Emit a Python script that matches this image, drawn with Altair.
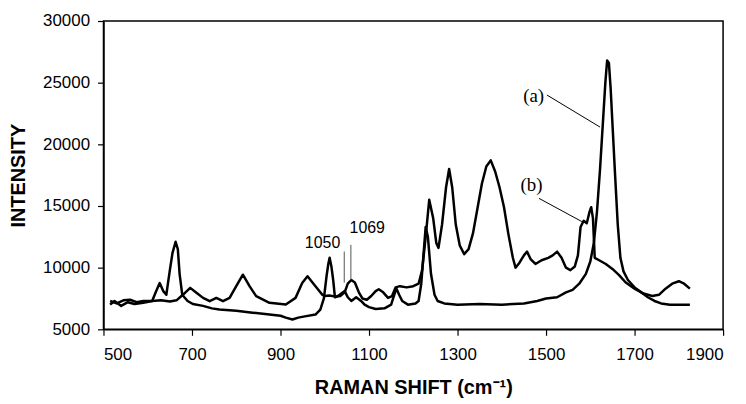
import altair as alt
import pandas as pd

# Spectrum (a)
a_x = [515, 525, 540, 555, 570, 590, 610, 618, 627, 635, 642, 650, 656, 663, 668, 672, 678, 690, 702,
       725, 745, 762, 800, 837, 875, 900, 912, 927, 940, 955, 979, 990, 998, 1004, 1008, 1011, 1015,
       1019, 1023, 1030, 1045, 1052, 1060, 1071, 1082, 1090, 1100, 1115, 1135, 1150, 1157, 1162, 1168,
       1175, 1188, 1205, 1212, 1218, 1223, 1228, 1233, 1240, 1248, 1255, 1270, 1300, 1350, 1400, 1450,
       1480, 1500, 1525, 1545, 1560, 1575, 1590, 1600, 1608, 1615, 1622, 1628, 1634, 1638, 1642, 1646,
       1651, 1656, 1662, 1668, 1675, 1685, 1700, 1715, 1730, 1745, 1760, 1780, 1800, 1825]
a_y = [7000, 7300, 6900, 7200, 7050, 7150, 7300, 8000, 8750, 8100, 7800, 9800, 11200, 12100, 11500, 9500,
       7800, 7300, 7050, 6900, 6700, 6600, 6500, 6350, 6200, 6100, 5950, 5800, 5950, 6050, 6200, 6600,
       7500, 9300, 10300, 10800, 10100, 9000, 7600, 7700, 8100, 7600, 7300, 7600, 7300, 7000, 6800,
       6650, 6700, 7000, 7800, 8300, 7800, 7300, 7000, 7100, 7300, 8700, 11000, 13300, 12500, 9500,
       7800, 7300, 7100, 7000, 7050, 7000, 7100, 7300, 7500, 7600, 8000, 8200, 8700, 9500, 10500,
       12000, 14500, 18000, 21500, 25000, 26800, 26600, 24500, 21000, 17500, 13500, 10800, 9700, 9000,
       8400, 8000, 7600, 7300, 7100, 7000, 7000, 7000]

# Spectrum (b)
b_x = [515, 530, 545, 560, 575, 590, 610, 630, 650, 665, 680, 696, 710, 725, 740, 755, 770, 785, 800,
       815, 830, 845, 875, 912, 934, 949, 961, 979, 994, 1000, 1010, 1025, 1035, 1045, 1052, 1060, 1068,
       1077, 1085, 1095, 1105, 1115, 1122, 1132, 1143, 1152, 1160, 1170, 1185, 1200, 1212, 1220, 1228,
       1236, 1245, 1252, 1257, 1265, 1274, 1281, 1288, 1296, 1305, 1315, 1325, 1335, 1345, 1355, 1365,
       1375, 1385, 1395, 1405, 1415, 1425, 1431, 1440, 1450, 1457, 1465, 1476, 1490, 1505, 1515, 1525,
       1535, 1545, 1555, 1565, 1572, 1578, 1585, 1592, 1598, 1602, 1606, 1610, 1620, 1635, 1650, 1665,
       1680, 1700, 1720, 1740, 1755, 1770, 1785, 1800, 1812, 1825]
b_y = [7300, 7100, 7350, 7400, 7200, 7300, 7300, 7350, 7250, 7350, 7820, 8360, 7960, 7550, 7280, 7550,
       7285, 7550, 8500, 9430, 8500, 7690, 7150, 7020, 7550, 8760, 9300, 8500, 7820, 7700, 7750, 7650,
       7700, 8000, 8700, 9000, 8800, 8000, 7500, 7400, 7700, 8100, 8250, 8000, 7550, 7700, 8400, 8500,
       8400, 8500, 8700, 9800, 12500, 15500, 14000, 12000, 11600, 13500, 16500, 18000, 16500, 13500,
       11800, 11100, 11500, 12800, 14800, 16800, 18200, 18700, 17800, 16500, 14900, 12700, 10800, 10000,
       10400, 11000, 11300, 10700, 10300, 10600, 10800, 11000, 11300, 10800, 10000, 9800, 10100, 11000,
       13300, 13800, 13600, 14500, 14900, 14000, 10800, 10600, 10300, 9900, 9400, 8800, 8300, 7900, 7700,
       7800, 8300, 8700, 8900, 8700, 8300]

x_ticks = [500, 700, 900, 1100, 1300, 1500, 1700, 1900]
y_ticks = [5000, 10000, 15000, 20000, 25000, 30000]

# Peak annotations
ann_labels = ["1050", "1069"]
ann_text_x = [995, 1096]
ann_text_y = [11590, 12800]
ann_line_x = [1044, 1059]
ann_line_top = [11310, 11850]
ann_line_bottom = [8790, 9030]

# Curve labels with pointers
cl_labels = ["(a)", "(b)"]
cl_text_x = [1472, 1467]
cl_text_y = [23950, 16690]
cl_ptr_x1 = [1502, 1484]
cl_ptr_y1 = [24000, 15620]
cl_ptr_x2 = [1622, 1581]
cl_ptr_y2 = [21400, 13735]

rows = []
for i, (x, y) in enumerate(zip(a_x, a_y)):
    rows.append({"shift": x, "intensity": y, "series": "a", "i": i})
for i, (x, y) in enumerate(zip(b_x, b_y)):
    rows.append({"shift": x, "intensity": y, "series": "b", "i": i})
spec = pd.DataFrame(rows)

ann = pd.DataFrame({"label": ann_labels, "tx": ann_text_x, "ty": ann_text_y,
                    "lx": ann_line_x, "ly1": ann_line_top, "ly2": ann_line_bottom})
cl = pd.DataFrame({"label": cl_labels, "tx": cl_text_x, "ty": cl_text_y,
                   "x1": cl_ptr_x1, "y1": cl_ptr_y1, "x2": cl_ptr_x2, "y2": cl_ptr_y2})

xscale = alt.Scale(domain=[500, 1900], nice=False, zero=False)
yscale = alt.Scale(domain=[5000, 30000], nice=False, zero=False)

xaxis = alt.Axis(values=x_ticks, format="d", title="RAMAN SHIFT (cm⁻¹)", grid=False,
                 titleY=65, titleBaseline="alphabetic", titleFontSize=20, titleFontWeight="bold",
                 labelFontSize=17, labelPadding=11, tickSize=6)
yaxis = alt.Axis(values=y_ticks, format="d", title="INTENSITY", grid=False,
                 titleX=-85, titleY=155, titleAlign="center", titleBaseline="middle",
                 titleFontSize=20, titleFontWeight="bold", labelFontSize=17, labelPadding=8, tickSize=6)

lines = alt.Chart(spec).mark_line(color="black", strokeWidth=2.5, strokeJoin="round").encode(
    x=alt.X("shift:Q", scale=xscale, axis=xaxis),
    y=alt.Y("intensity:Q", scale=yscale, axis=yaxis),
    detail="series:N",
    order="i:Q",
)

ann_rules = alt.Chart(ann).mark_rule(color="#555555", strokeWidth=1).encode(
    x=alt.X("lx:Q", scale=xscale), y=alt.Y("ly1:Q", scale=yscale), y2="ly2:Q")
ann_text = alt.Chart(ann).mark_text(fontSize=16, font="Liberation Sans", baseline="alphabetic",
                                    align="center", color="black").encode(
    x=alt.X("tx:Q", scale=xscale), y=alt.Y("ty:Q", scale=yscale), text="label:N")

cl_rules = alt.Chart(cl).mark_rule(color="black", strokeWidth=1).encode(
    x=alt.X("x1:Q", scale=xscale), y=alt.Y("y1:Q", scale=yscale), x2="x2:Q", y2="y2:Q")
cl_text = alt.Chart(cl).mark_text(fontSize=19, font="Liberation Serif", baseline="middle",
                                  align="center", color="black").encode(
    x=alt.X("tx:Q", scale=xscale), y=alt.Y("ty:Q", scale=yscale), text="label:N")

chart = alt.layer(lines, ann_rules, ann_text, cl_rules, cl_text).properties(
    width=623, height=310,
    autosize=alt.AutoSizeParams(type="none"),
    padding={"left": 96, "top": 12, "right": 15, "bottom": 74},
).configure_view(stroke="black", strokeWidth=1.5).configure_axis(
    domainColor="black", domainWidth=1.5, tickColor="black", tickWidth=1.2,
    labelColor="black", titleColor="black", labelFont="Liberation Sans", titleFont="Liberation Sans",
)

chart.save("out.html", embed_options={"renderer": "svg", "actions": False})
